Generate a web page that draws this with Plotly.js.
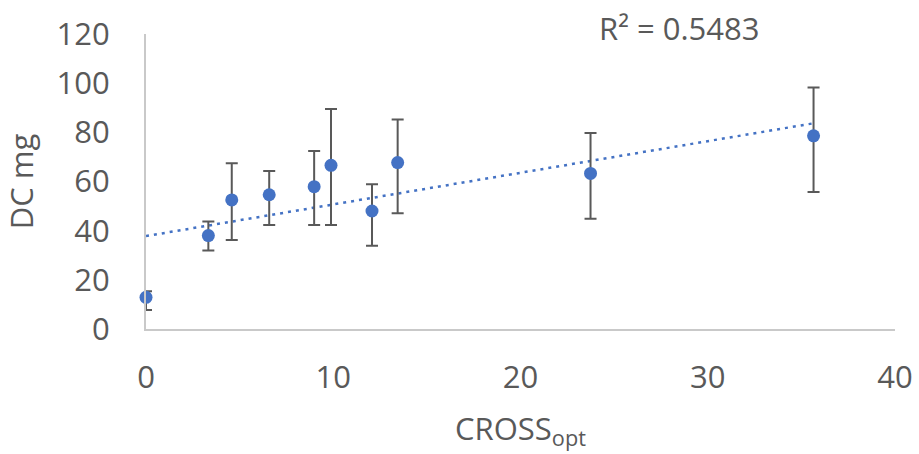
<!DOCTYPE html>
<html>
<head>
<meta charset="utf-8">
<script src="https://cdn.plot.ly/plotly-3.0.1.min.js"></script>
<style>html,body{margin:0;padding:0;background:#fff;}#chart{width:919px;height:454px;}</style>
</head>
<body>
<div id="chart"></div>
<script>
// Data
const crossOpt = [0, 3.33, 4.58, 6.58, 8.98, 9.88, 12.07, 13.44, 23.74, 35.65];
const dcMg     = [12.9, 38.0, 52.5, 54.6, 57.9, 66.6, 48.0, 67.7, 63.3, 78.6];
const errPlus  = [2.5, 5.7, 14.9, 9.7, 14.5, 22.9, 10.9, 17.5, 16.4, 19.6];
const errMinus = [5.2, 6.1, 16.3, 12.3, 15.6, 24.3, 14.1, 20.6, 18.5, 22.9];
const xTicks = [0, 10, 20, 30, 40];
const yTicks = [0, 20, 40, 60, 80, 100, 120];
// Linear trendline (intercept, slope)
const trendIntercept = 37.8;
const trendSlope = 1.287;
const r2Label = 'R² = 0.5483';

const xMin = Math.min(...crossOpt), xMax = Math.max(...crossOpt);
const trendX = [xMin, xMax];
const trendY = trendX.map(x => trendIntercept + trendSlope * x);

const blue = '#4472C4', grey = '#595959', axisCol = '#C9C9C9';
const fontFam = '"Open Sans", "Noto Sans", sans-serif';

const traces = [
  {
    x: trendX, y: trendY, type: 'scatter', mode: 'lines',
    line: {color: blue, width: 2.5, dash: '3px,5px'},
    hoverinfo: 'skip', cliponaxis: false
  },
  {
    x: crossOpt, y: dcMg, type: 'scatter', mode: 'markers',
    marker: {color: blue, size: 13},
    error_y: {type: 'data', symmetric: false, array: errPlus, arrayminus: errMinus,
              color: grey, thickness: 2, width: 6},
    cliponaxis: false
  }
];

const layout = {
  width: 919, height: 454,
  margin: {l: 146, r: 24, t: 34, b: 125},
  paper_bgcolor: '#fff', plot_bgcolor: '#fff',
  showlegend: false,
  font: {family: fontFam, color: grey, size: 31},
  xaxis: {
    range: [0, 40], tickvals: xTicks, ticktext: xTicks.map(String),
    showgrid: false, zeroline: false,
    showline: true, linecolor: axisCol, linewidth: 2,
    ticks: '', ticklabelstandoff: 20,
    tickfont: {family: fontFam, color: grey, size: 31},
    title: {text: 'CROSS<sub>opt</sub>', font: {family: fontFam, color: grey, size: 31}, standoff: 22}
  },
  yaxis: {
    range: [0, 120], tickvals: yTicks, ticktext: yTicks.map(String),
    showgrid: false, zeroline: false,
    showline: true, linecolor: axisCol, linewidth: 2,
    ticks: '', ticklabelstandoff: 28,
    tickfont: {family: fontFam, color: grey, size: 31},
    title: {text: 'DC mg', font: {family: fontFam, color: grey, size: 31}, standoff: 14}
  },
  annotations: [{
    xref: 'paper', yref: 'paper', x: 0.712, y: 1.02, xanchor: 'center', yanchor: 'middle',
    text: r2Label, showarrow: false, font: {family: fontFam, color: grey, size: 31}
  }]
};

Plotly.newPlot('chart', traces, layout, {staticPlot: true, displayModeBar: false});
</script>
</body>
</html>
